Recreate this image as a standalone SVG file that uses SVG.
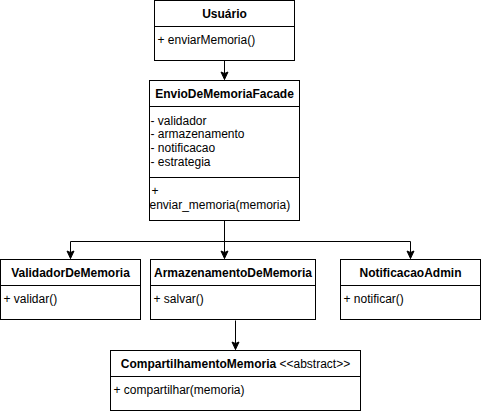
<svg xmlns="http://www.w3.org/2000/svg" width="481" height="412" viewBox="0 0 481 412">
<style>
  .box { fill: #ffffff; stroke: #000000; stroke-width: 1; }
  .div { stroke: #000000; stroke-width: 1; }
  .t { font-family: "Liberation Sans", Arial, sans-serif; font-size: 12px; fill: #000000; }
  .h { font-weight: bold; text-anchor: middle; }
  .edge { fill: none; stroke: #000000; stroke-width: 1; }
</style>
<defs>
  <marker id="arr" markerUnits="userSpaceOnUse" markerWidth="10" markerHeight="10" viewBox="-9 -5 10 10" refX="0" refY="0" orient="auto">
    <path d="M0,0 L-7.5,-3.5 L-6,0 L-7.5,3.5 Z" fill="#000000" stroke="#000000" stroke-width="1" stroke-linejoin="miter"/>
  </marker>
</defs>
<rect width="481" height="412" fill="#ffffff"/>

<g id="connectors">
  <path class="edge" d="M224.5,60.5 L224.5,79.5" marker-end="url(#arr)"/>
  <path class="edge" d="M224.5,220.5 L224.5,258.5" marker-end="url(#arr)"/>
  <path class="edge" d="M224.5,241.5 L70.5,241.5 L70.5,258.5" marker-end="url(#arr)"/>
  <path class="edge" d="M224.5,241.5 L410.5,241.5 L410.5,258.5" marker-end="url(#arr)"/>
  <path class="edge" d="M235.5,320.5 L235.5,349.5" marker-end="url(#arr)"/>
</g>

<g id="usuario">
  <rect class="box" x="154.5" y="0.5" width="140" height="60"/>
  <line class="div" x1="154.5" y1="26.5" x2="294.5" y2="26.5"/>
  <text class="t h" x="224.5" y="17.5">Usuário</text>
  <text class="t" x="157.5" y="44">+ enviarMemoria()</text>
</g>

<g id="facade">
  <rect class="box" x="149.5" y="80.5" width="150" height="140"/>
  <line class="div" x1="149.5" y1="106.5" x2="299.5" y2="106.5"/>
  <line class="div" x1="149.5" y1="177.5" x2="299.5" y2="177.5"/>
  <text class="t h" x="224.5" y="97.5">EnvioDeMemoriaFacade</text>
  <text class="t" x="150.5" y="124.5">- validador</text>
  <text class="t" x="150.5" y="138.3">- armazenamento</text>
  <text class="t" x="150.5" y="152.1">- notificacao</text>
  <text class="t" x="150.5" y="165.9">- estrategia</text>
  <text class="t" x="151.5" y="195">+</text>
  <text class="t" x="149.5" y="209">enviar_memoria(memoria)</text>
</g>

<g id="validador">
  <rect class="box" x="0.5" y="259.5" width="140" height="60"/>
  <line class="div" x1="0.5" y1="285.5" x2="140.5" y2="285.5"/>
  <text class="t h" x="70.5" y="276.5">ValidadorDeMemoria</text>
  <text class="t" x="3.5" y="302.5">+ validar()</text>
</g>

<g id="armazenamento">
  <rect class="box" x="150.5" y="259.5" width="165" height="60"/>
  <line class="div" x1="150.5" y1="285.5" x2="315.5" y2="285.5"/>
  <text class="t h" x="233" y="276.5">ArmazenamentoDeMemoria</text>
  <text class="t" x="153.5" y="302.5">+ salvar()</text>
</g>

<g id="notificacao">
  <rect class="box" x="340.5" y="259.5" width="140" height="60"/>
  <line class="div" x1="340.5" y1="285.5" x2="480.5" y2="285.5"/>
  <text class="t h" x="410.5" y="276.5">NotificacaoAdmin</text>
  <text class="t" x="343.5" y="302.5">+ notificar()</text>
</g>

<g id="compartilhamento">
  <rect class="box" x="110.5" y="350.5" width="250" height="60"/>
  <line class="div" x1="110.5" y1="376.5" x2="360.5" y2="376.5"/>
  <text class="t h" x="235.5" y="367.5">CompartilhamentoMemoria<tspan font-weight="normal"> &lt;&lt;abstract&gt;&gt;</tspan></text>
  <text class="t" x="113.5" y="393.5">+ compartilhar(memoria)</text>
</g>
</svg>
